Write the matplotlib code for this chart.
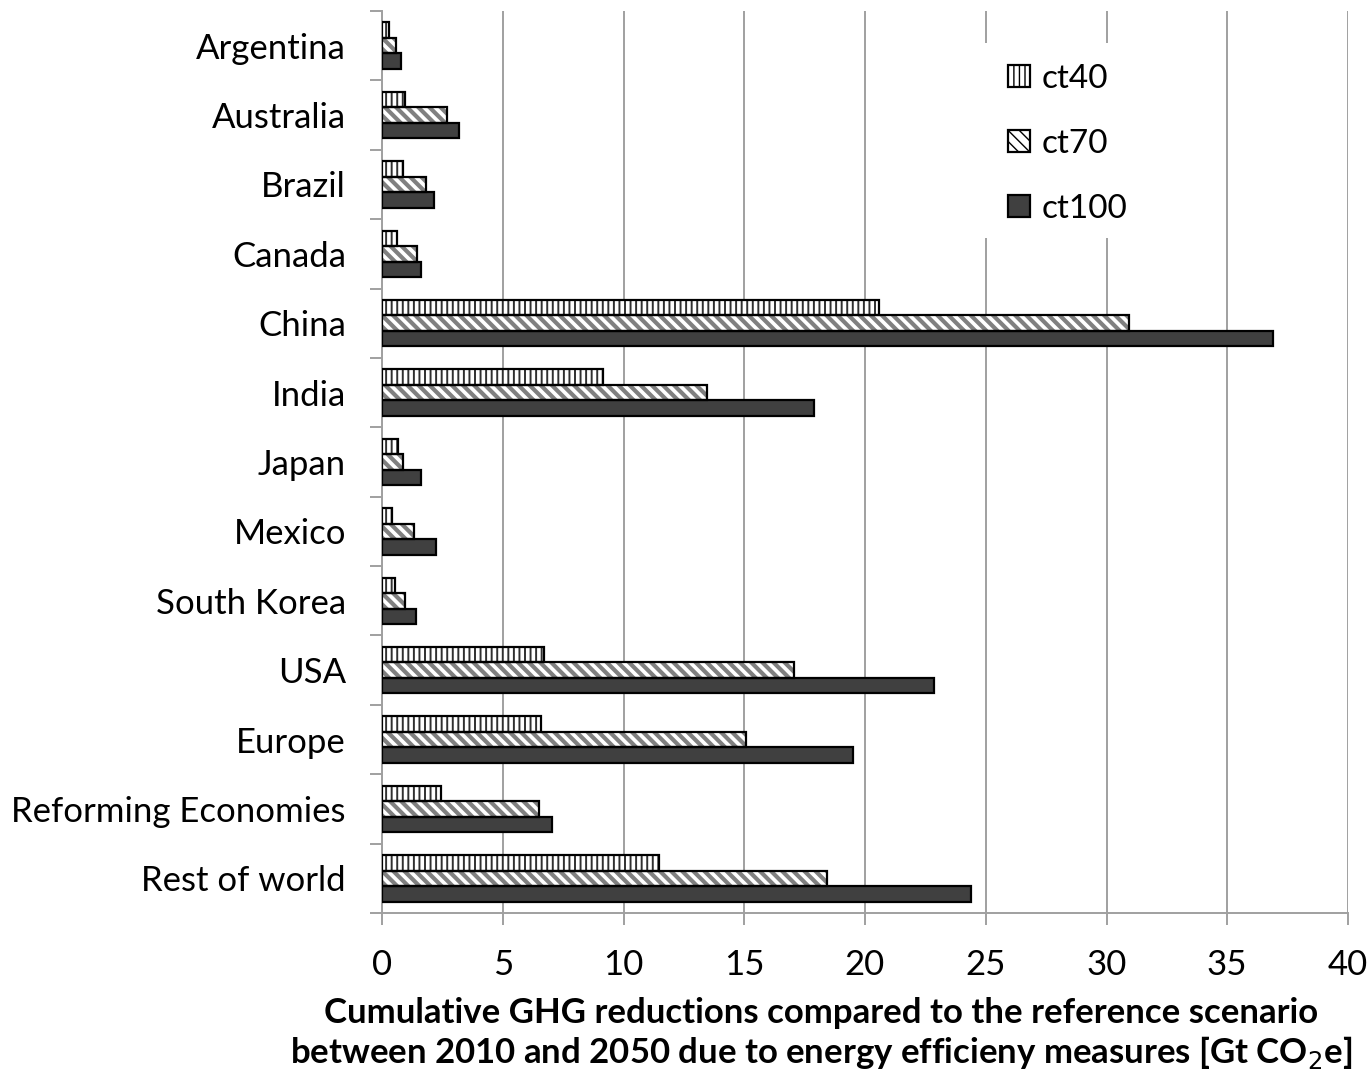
import numpy as np
import matplotlib.pyplot as plt
from matplotlib.patches import Patch, Rectangle

plt.rcParams['font.family'] = ['Lato', 'DejaVu Sans']

regions = ['Argentina', 'Australia', 'Brazil', 'Canada', 'China', 'India', 'Japan',
           'Mexico', 'South Korea', 'USA', 'Europe', 'Reforming Economies', 'Rest of world']
ct40 = [0.3, 0.94, 0.86, 0.61, 20.6, 9.17, 0.65, 0.43, 0.54, 6.72, 6.57, 2.43, 11.47]
ct70 = [0.57, 2.68, 1.84, 1.44, 30.95, 13.47, 0.88, 1.34, 0.97, 17.07, 15.07, 6.51, 18.41]
ct100 = [0.79, 3.2, 2.14, 1.61, 36.9, 17.89, 1.61, 2.22, 1.41, 22.86, 19.52, 7.04, 24.39]
xticks = [0, 5, 10, 15, 20, 25, 30, 35, 40]

grid_c = '#a0a0a0'
dark = '#404040'

fig = plt.figure(figsize=(13.72, 10.73), dpi=100)
ax = fig.add_axes([382/1372, 1-913/1073, 966/1372, 902/1073])

y = np.arange(len(regions))
h = 0.223

# ct40 - vertical stripes
with plt.rc_context({'hatch.linewidth': 1.4}):
    ax.barh(y - h, ct40, height=h, color='white', edgecolor='#303030', hatch='|||', lw=0, zorder=3)
ax.barh(y - h, ct40, height=h, fill=False, edgecolor='black', lw=1.6, zorder=4)

# ct70 - diagonal stripes
with plt.rc_context({'hatch.linewidth': 3.0}):
    ax.barh(y, ct70, height=h, color='white', edgecolor='#808080', hatch='\\\\\\', lw=0, zorder=3)
ax.barh(y, ct70, height=h, fill=False, edgecolor='black', lw=1.6, zorder=4)

# ct100 - solid dark
ax.barh(y + h, ct100, height=h, color=dark, edgecolor='black', lw=1.6, zorder=3)

ax.set_xlim(0, 40)
ax.set_ylim(len(regions) - 0.5, -0.5)
ax.set_xticks(xticks)
ax.set_yticks(y)
ax.set_yticklabels(regions)
ax.set_yticks(np.arange(len(regions) + 1) - 0.5, minor=True)
ax.tick_params(axis='y', which='major', length=0, pad=26, labelsize=25)
ax.tick_params(axis='y', which='minor', length=8.6, width=1.4, color=grid_c, direction='out')
ax.tick_params(axis='x', length=8.6, width=1.4, color=grid_c, pad=17, labelsize=25)

ax.grid(axis='x', color=grid_c, lw=1.4, zorder=0)
ax.set_axisbelow(True)
for s in ['top', 'right']:
    ax.spines[s].set_visible(False)
for s in ['left', 'bottom']:
    ax.spines[s].set_color(grid_c)
    ax.spines[s].set_linewidth(1.4)

ax.set_xlabel('Cumulative GHG reductions compared to the reference scenario\n'
              'between 2010 and 2050 due to energy efficieny measures [Gt CO$_2$e]',
              fontsize=25, fontweight='bold', linespacing=1.15, labelpad=12,
              x=(821-382)/966)

# white area behind the legend hides the gridlines
ax.add_patch(Rectangle(((984-382)/966*40, (43-11)/902*13 - 0.5), (1112-984)/966*40, (238-43)/902*13,
                       facecolor='white', edgecolor='none', zorder=1))

handles = [
    Patch(facecolor='white', edgecolor='black', hatch='|||', lw=1.6),
    Patch(facecolor='white', edgecolor='black', hatch='\\\\\\', lw=1.6),
    Patch(facecolor=dark, edgecolor='black', lw=1.6),
]
leg = ax.legend(handles, ['ct40', 'ct70', 'ct100'], loc='upper left',
                bbox_to_anchor=((1008-382)/966, 1-(64-11)/902),
                fontsize=24, frameon=False, handlelength=0.65, handleheight=0.65,
                handletextpad=0.35, labelspacing=1.05, borderpad=0, borderaxespad=0)
leg.set_zorder(5)

fig.savefig('out.png', dpi=100)
